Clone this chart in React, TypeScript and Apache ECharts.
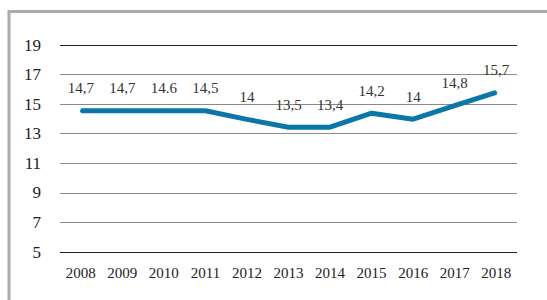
import React, { useEffect, useRef } from "react";
import * as echarts from "echarts";

const years = ["2008", "2009", "2010", "2011", "2012", "2013", "2014", "2015", "2016", "2017", "2018"];
// values as drawn by the line in the picture
const lineValues = [14.55, 14.55, 14.55, 14.55, 13.97, 13.44, 13.44, 14.39, 13.98, 14.9, 15.8];
// data label texts as printed in the picture
const labelTexts = ["14,7", "14,7", "14.6", "14,5", "14", "13,5", "13,4", "14,2", "14", "14,8", "15,7"];
const yMin = 5;
const yMax = 19;
const yStep = 2;

const FONT = "'Liberation Serif', 'Times New Roman', serif";
const LINE_COLOR = "#0b77a6";

export default function App() {
  const ref = useRef<HTMLDivElement>(null);
  useEffect(() => {
    if (!ref.current) return;
    const chart = echarts.init(ref.current, undefined, { renderer: "svg" });
    chart.setOption({
      animation: false,
      backgroundColor: "#ffffff",
      graphic: [
        {
          type: "rect",
          shape: { x: 9, y: 11.5, width: 620, height: 400 },
          style: { fill: "none", stroke: "#ababab", lineWidth: 3 },
          silent: true,
        },
      ],
      grid: { left: 60, right: 30, top: 45, bottom: 48 },
      xAxis: {
        type: "category",
        data: years,
        boundaryGap: true,
        axisLine: { show: false },
        axisTick: { show: false },
        axisLabel: {
          interval: 0,
          margin: 13,
          fontSize: 15,
          fontFamily: FONT,
          color: "#222",
        },
        splitLine: { show: false },
      },
      yAxis: {
        type: "value",
        min: yMin,
        max: yMax,
        interval: yStep,
        axisLine: { show: false },
        axisTick: { show: false },
        axisLabel: {
          margin: 19,
          fontSize: 17,
          fontFamily: FONT,
          color: "#222",
        },
        splitLine: {
          show: true,
          lineStyle: {
            color: ["#222", "#8a8a8a", "#8a8a8a", "#8a8a8a", "#8a8a8a", "#8a8a8a", "#8a8a8a", "#222"],
            width: 1,
          },
        },
      },
      series: [
        {
          type: "line",
          data: lineValues,
          symbol: "circle",
          symbolSize: 2,
          showSymbol: true,
          itemStyle: { color: LINE_COLOR },
          lineStyle: { color: LINE_COLOR, width: 5 },
          label: {
            show: true,
            position: "top",
            distance: 14,
            fontSize: 15,
            fontFamily: FONT,
            color: "#333",
            formatter: (p: any) => labelTexts[p.dataIndex],
          },
        },
      ],
    });
    return () => chart.dispose();
  }, []);
  return (
    <div
      ref={ref}
      style={{ position: "fixed", left: 0, top: 0, width: 547, height: 300, background: "#fff" }}
    />
  );
}
